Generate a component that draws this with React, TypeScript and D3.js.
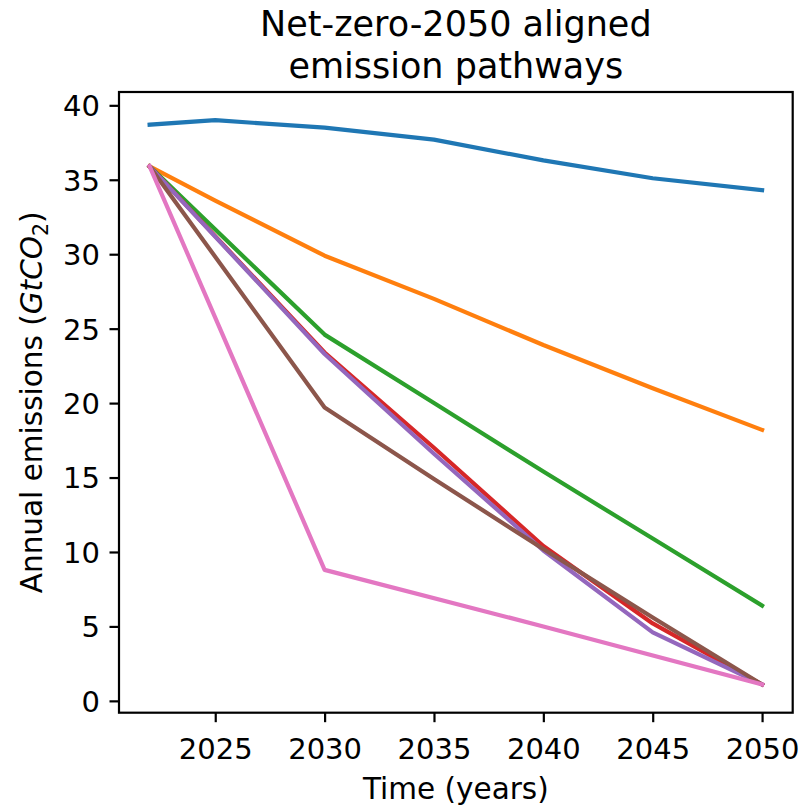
import React, { useEffect, useRef } from 'react';
import * as d3 from 'd3';

// Values (GtCO2 per year)
const blueYears = [2022, 2025, 2030, 2035, 2040, 2045, 2050];
const blueValues = [38.7, 39.0, 38.5, 37.7, 36.3, 35.1, 34.3];

const orangeYears = [2022, 2025, 2030, 2035, 2040, 2045, 2050];
const orangeValues = [35.9, 33.6, 29.9, 27.0, 23.9, 21.0, 18.2];

const greenYears = [2022, 2030, 2035, 2040, 2045, 2050];
const greenValues = [35.9, 24.6, 20.0, 15.4, 10.9, 6.4];

const redYears = [2022, 2030, 2035, 2040, 2045, 2050];
const redValues = [35.9, 23.4, 17.0, 10.4, 5.2, 1.1];

const purpleYears = [2022, 2030, 2035, 2040, 2045, 2050];
const purpleValues = [35.9, 23.3, 16.6, 10.1, 4.6, 1.1];

const brownYears = [2022, 2030, 2035, 2040, 2045, 2050];
const brownValues = [35.9, 19.7, 14.9, 10.2, 5.6, 1.1];

const pinkYears = [2022, 2030, 2040, 2050];
const pinkValues = [35.9, 8.8, 5.0, 1.1];

const xTicks = [2025, 2030, 2035, 2040, 2045, 2050];
const yTicks = [0, 5, 10, 15, 20, 25, 30, 35, 40];

const titleLines = ['Net-zero-2050 aligned', 'emission pathways'];

const series = [
  { years: blueYears, values: blueValues, color: '#1f77b4' },
  { years: orangeYears, values: orangeValues, color: '#ff7f0e' },
  { years: greenYears, values: greenValues, color: '#2ca02c' },
  { years: redYears, values: redValues, color: '#d62728' },
  { years: purpleYears, values: purpleValues, color: '#9467bd' },
  { years: brownYears, values: brownValues, color: '#8c564b' },
  { years: pinkYears, values: pinkValues, color: '#e377c2' },
];

const FONT = '"DejaVu Sans", Verdana, sans-serif';

const App = () => {
  const ref = useRef<SVGSVGElement>(null);

  useEffect(() => {
    const svg = d3.select(ref.current);
    svg.selectAll('*').remove();

    const width = 802;
    const height = 808;
    const margin = { top: 92, right: 9.3, bottom: 95.3, left: 119 };
    const plotRight = width - margin.right;
    const plotBottom = height - margin.bottom;

    // matplotlib style 5% auto margins
    const allYears = series.flatMap(s => s.years);
    const allValues = series.flatMap(s => s.values);
    const [x0, x1] = d3.extent(allYears) as [number, number];
    const [y0, y1] = d3.extent(allValues) as [number, number];
    const xPad = (x1 - x0) * 0.05;
    const yPad = (y1 - y0) * 0.05;

    const x = d3.scaleLinear()
      .domain([x0 - xPad, x1 + xPad])
      .range([margin.left, plotRight]);

    const y = d3.scaleLinear()
      .domain([y0 - yPad, y1 + yPad])
      .range([plotBottom, margin.top]);

    const line = d3.line<[number, number]>()
      .x(d => x(d[0]))
      .y(d => y(d[1]));

    // lines
    series.forEach(s => {
      svg.append('path')
        .datum(s.years.map((yr, i) => [yr, s.values[i]] as [number, number]))
        .attr('d', line)
        .attr('fill', 'none')
        .attr('stroke', s.color)
        .attr('stroke-width', 4.2)
        .attr('stroke-linejoin', 'round')
        .attr('stroke-linecap', 'square');
    });

    // axes
    const xAxis = svg.append('g')
      .attr('transform', `translate(0,${plotBottom})`)
      .call(d3.axisBottom(x).tickValues(xTicks).tickFormat(d3.format('d')).tickSize(9.5).tickPadding(9));
    const yAxis = svg.append('g')
      .attr('transform', `translate(${margin.left},0)`)
      .call(d3.axisLeft(y).tickValues(yTicks).tickFormat(d3.format('d')).tickSize(9.5).tickPadding(9.5));

    [xAxis, yAxis].forEach(g => {
      g.select('.domain').remove();
      g.selectAll('line').attr('stroke', '#000').attr('stroke-width', 2.2);
      g.selectAll('text')
        .attr('fill', '#000')
        .style('font-family', FONT)
        .style('font-size', '29px');
    });
    xAxis.selectAll('text').attr('dy', null).attr('y', 0).attr('transform', 'translate(0,46)');
    yAxis.selectAll('text').attr('dy', '0.36em');

    // frame
    svg.append('rect')
      .attr('x', margin.left)
      .attr('y', margin.top)
      .attr('width', plotRight - margin.left)
      .attr('height', plotBottom - margin.top)
      .attr('fill', 'none')
      .attr('stroke', '#000')
      .attr('stroke-width', 2.2);

    const cx = (margin.left + plotRight) / 2;
    const cy = (margin.top + plotBottom) / 2;

    // title
    const title = svg.append('text')
      .attr('text-anchor', 'middle')
      .style('font-family', FONT)
      .style('font-size', '35px')
      .attr('fill', '#000');
    titleLines.forEach((t, i) => {
      title.append('tspan')
        .attr('x', cx)
        .attr('y', 36 + i * 41.5)
        .text(t);
    });

    // x label
    svg.append('text')
      .attr('x', cx)
      .attr('y', 799)
      .attr('text-anchor', 'middle')
      .style('font-family', FONT)
      .style('font-size', '29.5px')
      .attr('fill', '#000')
      .text('Time (years)');

    // y label with mathtext-like GtCO2
    const yl = svg.append('text')
      .attr('transform', `translate(42,${cy}) rotate(-90)`)
      .attr('text-anchor', 'middle')
      .style('font-family', FONT)
      .style('font-size', '29.5px')
      .attr('fill', '#000');
    yl.append('tspan').text('Annual emissions (');
    yl.append('tspan').style('font-style', 'italic').text('GtCO');
    yl.append('tspan').attr('dy', 5.5).style('font-size', '20.5px').text('2');
    yl.append('tspan').attr('dy', -5.5).text(')');
  }, []);

  return (
    <svg
      ref={ref}
      width="802"
      height="808"
      style={{ position: 'absolute', left: 0, top: 0, background: '#fff' }}
    ></svg>
  );
};

export default App;
